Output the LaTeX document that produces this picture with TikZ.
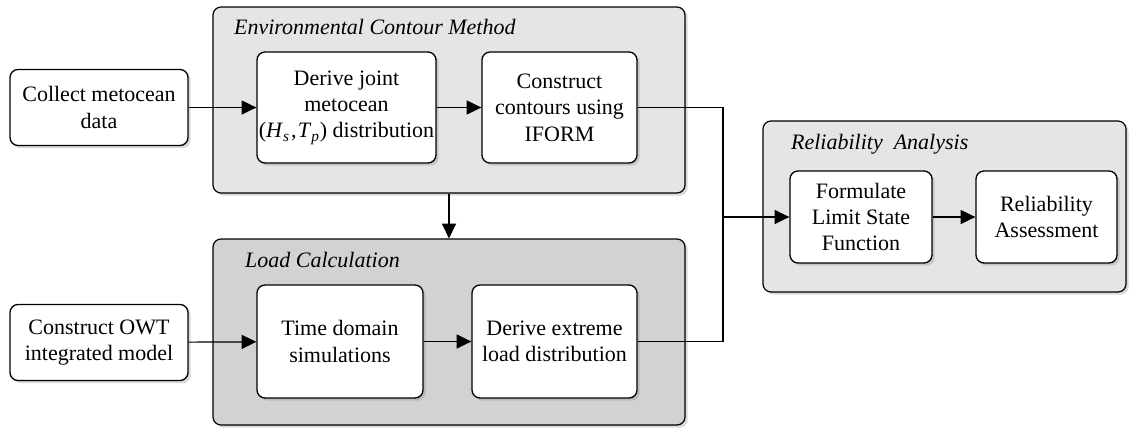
\documentclass[tikz,border=0pt]{standalone}
\usepackage{fontspec}
\setmainfont{Liberation Serif}
\usetikzlibrary{arrows.meta,shadows}

\definecolor{lightpanel}{RGB}{229,229,229}
\definecolor{darkpanel}{RGB}{210,210,210}

\begin{document}
\begin{tikzpicture}[
    x=0.75pt,
    y=-0.75pt,
    >={Triangle[length=11pt,width=10.5pt]},
    font=\fontsize{16.5}{19.8}\selectfont,
    group/.style={
      draw,
      rounded corners=6pt,
      line width=0.9pt,
      drop shadow={shadow xshift=2pt,shadow yshift=-2pt,opacity=0.3}
    },
    proc/.style={
      draw,
      fill=white,
      rounded corners=6pt,
      line width=1pt,
      align=center,
      inner sep=1pt,
      drop shadow={shadow xshift=2pt,shadow yshift=-2pt,opacity=0.3}
    },
    grouptitle/.style={
      anchor=base west,
      font=\fontsize{16.5}{19.8}\selectfont\itshape
    },
    flow/.style={
      ->,
      line width=0.9pt
    }
  ]
    \useasboundingbox (0,0) rectangle (1136,429);

    % panels
    \node[group,fill=lightpanel,minimum width=354pt,minimum height=139.5pt] (ecm) at (449,100) {};
    \node[group,fill=darkpanel,minimum width=354pt,minimum height=139.5pt] (lc) at (449,332) {};
    \node[group,fill=lightpanel,minimum width=272.25pt,minimum height=128.25pt] (ra) at (944.5,206.5) {};

    \node[grouptitle] (ecmtitle) at ([shift={(17,28)}]ecm.north west) {Environmental Contour Method};
    \node[grouptitle] (lctitle) at ([shift={(28,29)}]lc.north west) {Load Calculation};
    \node[grouptitle] (ratitle) at ([shift={(24,29)}]ra.north west) {Reliability~ Analysis};

    % steps
    \node[proc,minimum width=133.5pt,minimum height=57pt] (collect) at (99,107.5) {Collect metocean\\data};
    \node[proc,minimum width=133.5pt,minimum height=57pt] (owt) at (99,342.5) {Construct OWT\\integrated model};
    \node[proc,minimum width=134.25pt,minimum height=83.25pt] (joint) at (346.5,107.5)
      {Derive joint\\metocean\\(\textit{H}\textsubscript{\textit{s}}\kern1pt,\kern1pt\textit{T}\textsubscript{\textit{p}}) distribution};
    \node[proc,minimum width=116.25pt,minimum height=83.25pt] (contours) at (559.5,107.5) {Construct\\contours using\\IFORM};
    \node[proc,minimum width=124.5pt,minimum height=84.75pt] (timedom) at (340,341.5) {Time domain\\simulations};
    \node[proc,minimum width=123.75pt,minimum height=84.75pt] (extreme) at (554.5,341.5) {Derive extreme\\load distribution};
    \node[proc,minimum width=106.5pt,minimum height=69pt] (lsf) at (861,217) {Formulate\\Limit State\\Function};
    \node[proc,minimum width=105.75pt,minimum height=69pt] (assess) at (1046.5,217) {Reliability\\Assessment};

    \coordinate (join) at (723,217);

    \foreach \a/\b in {collect/joint,joint/contours,owt/timedom,timedom/extreme,lsf/assess}
      \draw[flow] (\a) -- (\b);

    \draw[flow] (ecm.south) -- (lc.north);
    \draw[line width=0.9pt] (contours.east) -| (join) |- (extreme.east);
    \draw[flow] (join) -- (lsf.west);
  \end{tikzpicture}
\end{document}
